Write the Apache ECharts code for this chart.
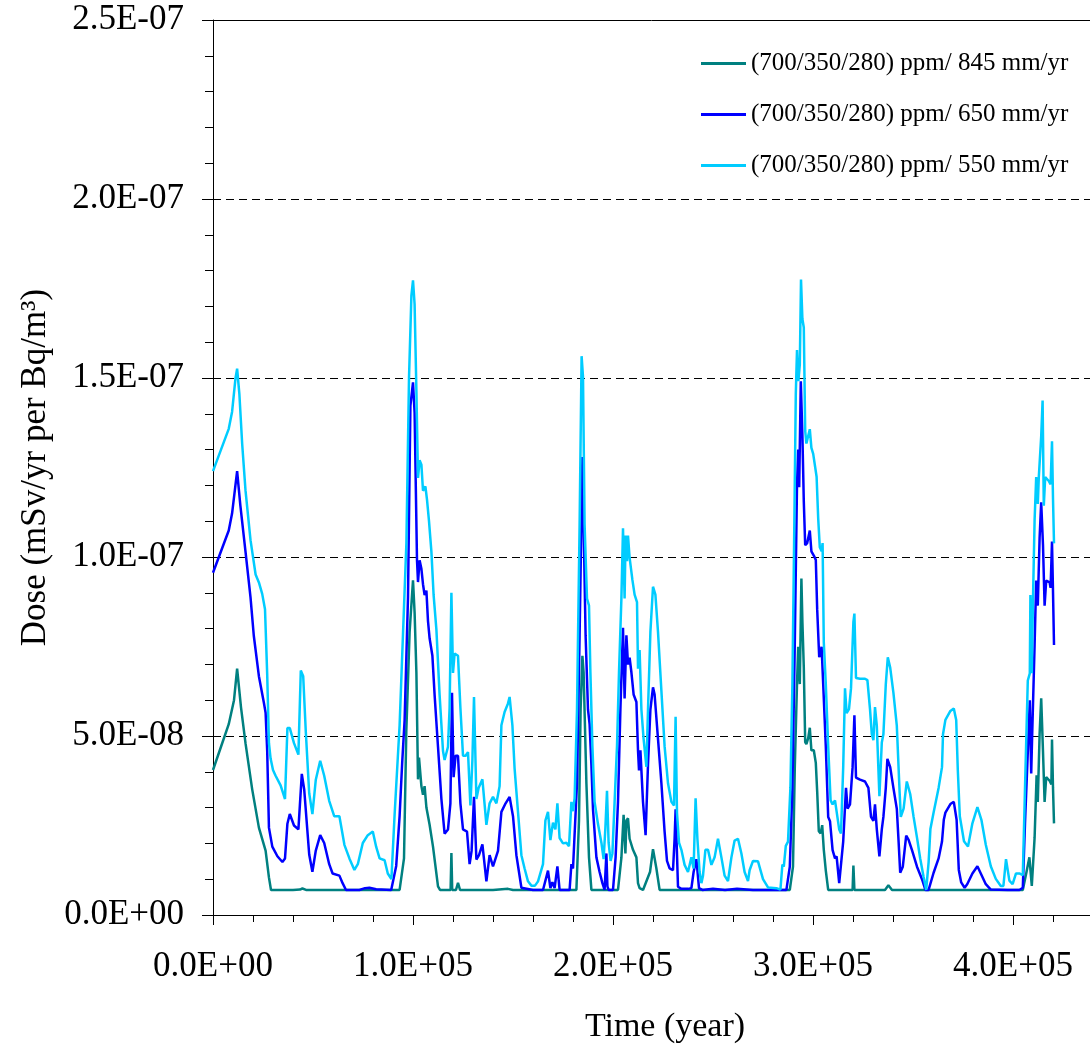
<!DOCTYPE html>
<html>
<head>
<meta charset="utf-8">
<script src="https://cdn.jsdelivr.net/npm/echarts@6/dist/echarts.min.js"></script>
<style>
  html, body { margin: 0; padding: 0; background: #fff; }
  #chart { width: 1090px; height: 1049px; }
</style>
</head>
<body>
<div id="chart"></div>
<script>
// Dose values are stored in units of 1e-9 mSv/yr per Bq/m³; time in years.
const DOSE_UNIT = 1e-9;

const seriesNames = [
  '(700/350/280) ppm/ 845 mm/yr',
  '(700/350/280) ppm/ 650 mm/yr',
  '(700/350/280) ppm/ 550 mm/yr'
];
const seriesColors = ['#008080', '#0000FF', '#00CCFF'];

// 845 mm/yr
const time845 = [0,4000,7870,10500,12060,14000,16250,19600,22950,26300,27970,29000,35000,40000,43500,44700,46500,60000,75000,93300,95500,96650,98300,100000,100800,101700,102500,103000,104200,105000,105800,106700,108300,110000,112500,113500,118800,119200,119600,121500,122500,123500,140000,147500,150000,180000,181700,183000,183800,184700,185300,186700,188000,189200,202500,204200,205300,206200,206700,207500,208300,210000,211700,212500,213300,215000,218500,220000,221700,223300,250000,288400,290000,290900,292000,292600,293400,294200,294700,295400,296100,296700,297600,298400,299200,300400,301400,302100,302900,303800,304600,305400,306400,307600,319800,320200,320700,336000,337700,339500,360000,404900,406600,408200,409400,410800,411800,412400,413300,414100,415000,415800,416600,418300,419200,419500,420000,420500];
const dose845 = [40.5,47,53.3,60,68.8,58,48,35.1,24.4,18,10.5,7,7,7,7.1,7.4,7,7,7,7,15.8,51.2,79,93.5,84.5,67.6,37.9,44,36,33.6,36,30,25.2,19.1,8,7,7,17.3,7,7,9,7,7,7.3,7,7,7,26.4,57.4,72.4,67.8,36.8,16.1,7,7,16,28,17.2,26.4,27,21.3,18.2,16.1,8.9,7.5,7,12,18.4,13,7,7,7,13.5,41.3,64.5,74.9,64.5,94,81.9,69.1,48.3,47.7,49.4,52.3,46,46,42.5,34.4,23.4,22.8,25.1,18.2,12.4,7,7,13.8,7,7,8.3,7,7,7,11.6,16.1,8.1,21.6,39,31.6,50.5,60.5,45.6,31.6,38.5,37.5,36.5,49,35.5,25.6];

// 650 mm/yr
const time650 = [0,7870,9550,12060,13700,16250,18760,20400,22950,25460,26300,27100,27970,29650,32200,34700,36000,37200,38400,40500,42700,44400,45600,48100,49700,51400,53600,55600,58100,59800,63200,64800,66500,73200,76000,78200,81600,89100,90000,91600,93300,94600,95800,97500,98700,100000,100800,102000,102500,103300,104200,105000,105800,106700,107500,108300,109700,110800,112500,114200,115800,117500,118700,119500,120300,121300,122500,123700,125000,127000,128300,129300,130500,131700,133000,134700,136700,138300,140000,142500,144200,146300,148300,150000,151700,154200,160000,165000,167500,168700,169700,170800,172200,173300,178300,179200,180000,180800,182000,183300,184700,185300,186300,187500,188300,189200,190000,191700,193300,194700,195800,196700,197200,197800,200000,201300,202500,203700,205000,205800,206700,207500,208300,209200,210300,211700,212500,213000,213700,215000,216300,217500,218700,220000,220800,222500,224200,225800,227000,228300,230000,230800,231300,232500,234200,237500,239200,240300,241700,243000,244700,250000,256000,262000,270000,286700,288400,289700,290900,292000,292600,293100,293900,294700,295400,296100,297100,298400,299200,300400,301400,302100,303100,304300,305100,306400,307600,308500,309800,311000,311800,313100,314000,315100,316500,317300,318500,319800,320700,321500,323500,326000,327700,329000,330200,331000,331900,333200,334400,335200,336400,337200,338600,340200,341900,342800,343600,344900,346600,347800,349500,352000,354500,356200,357800,360300,362800,364500,365400,366200,368700,370400,371800,372900,374100,375800,377100,379700,382200,383900,386400,388900,397300,403200,404900,406000,407400,408400,409100,409600,410800,411600,412400,413300,414100,415000,415800,416600,417500,418300,418800,419500,420000,420500];
const dose650 = [95.6,107.4,112.2,124,114.3,101.5,88.7,78,66.7,59.2,56.5,45.8,24.4,19.1,16.4,14.8,15.8,25.5,28.2,25,23.9,39.4,35.1,16.9,12.1,18,22.3,20.1,14.2,11.6,11,8.9,7,7,7.5,7.6,7.2,7,7,13.7,27.6,42.6,54.4,88.7,142.2,148.8,140.3,99.1,93,99.1,96.7,92.4,89.4,90.6,82.1,77.3,72.4,61.5,47,32.4,22.7,23.9,31.2,62.1,38.5,44.5,44.5,31.2,23.9,23.3,14.2,17.9,33,15.5,16.7,19.7,9.4,16.7,13.6,17.9,28.8,31.2,33,27.6,16.7,7.6,7,7,12.4,7.5,9.2,7.5,13.6,7,7,14.2,13,13,36.8,78.1,127.9,109.1,78.1,57.4,53.3,41.9,29.5,16.1,12,8.9,7,17.2,8,7,7,16.1,31.6,57.4,80.2,60.5,78.1,70,71.9,67.8,61.6,59.5,46,40.4,46,31.6,22.3,42,57.4,63.6,61.6,49.2,36.8,23.3,15.1,13,12.5,21.3,29.5,7.9,7.3,7.3,7.5,12,15.6,7.5,7,7.3,7,7.3,7,7,13.5,35.5,76,120.1,130,119.5,149.1,134,115.5,103.3,103.9,107.4,101.6,100.4,99.2,85.3,72,74.9,64.5,47.1,27.4,26.2,18.1,15.8,16.4,8.9,8.9,20.5,35.5,29.7,30.9,41.3,55.8,38.4,37.8,37.3,35.5,27.4,26.3,30.9,23.9,16.4,23.9,27.4,35.5,43.6,41.3,35.5,29.7,20.5,11.8,13.5,22.2,21,18.1,13.5,10,7,7,11.8,15.8,20.5,26.6,28.6,31,31.6,26.6,12.6,9.1,7.6,8.6,11.6,13.6,11.6,8.6,7.1,7,7,7.6,25.6,45.5,60,39.5,50.5,75.4,93.4,86.4,105.3,115.3,103.3,86.4,93.4,93.4,92.9,91.4,104.3,90.4,75.4];

// 550 mm/yr
const time550 = [0,7870,9550,11200,12060,13200,14600,16250,18760,21300,22950,24600,26000,27100,27970,28800,30000,31300,33800,36000,37200,38400,40500,42700,43900,45100,46400,48100,49700,51400,53600,55600,58100,60600,63200,65700,68200,70700,72400,74900,77400,79900,81600,83300,85800,87400,89200,90800,93300,95000,96700,98000,99200,100000,100800,101700,102500,103300,104200,105000,106200,107000,108000,109200,110300,111700,113300,115000,115800,117500,118300,119200,120000,120800,122500,123700,125000,126300,127500,128700,129700,130500,131700,132800,134700,136700,138300,140000,141700,143300,144200,145800,147500,148300,149700,150800,152500,154200,155800,157500,159200,161000,162500,165000,166200,167500,168700,170000,171200,172200,173300,175000,176700,178000,179200,180000,180800,182000,183300,184300,185000,185800,187000,188000,188700,189700,190800,192500,194200,195300,196200,197000,197800,198800,199700,200800,202000,203000,204200,205000,205800,206300,207000,207500,208300,209700,210800,212000,212500,213300,214200,215300,216700,217500,218700,220000,221200,222500,224200,225800,227500,229200,230500,231300,232000,233000,234200,235800,237500,239200,240300,241300,242200,243300,244200,245000,246200,247500,249200,250800,252500,254200,255800,257500,259200,260800,262500,264200,265800,267500,268300,270000,272500,275000,277500,281700,283700,284700,285400,286400,287500,288700,289700,290500,291400,292000,292700,293400,294000,294700,295400,296100,296700,297600,298400,299200,300100,300900,301800,302600,303400,304300,304800,305400,306400,307600,308800,309800,311000,311800,313100,314000,315100,316000,316800,318000,319000,320200,320700,321500,323500,326000,327200,328500,329400,330200,331000,331900,333200,334400,335200,336400,337400,338600,340200,341900,343300,343900,345300,346900,348600,350300,352000,353600,355300,356600,357800,358700,360300,362800,364500,365000,366200,368700,370400,371600,372400,373400,375500,377500,379700,382200,384200,386400,388900,391400,393900,395200,396500,398200,399800,401500,403200,404900,406000,407400,408400,408700,409400,409900,410800,411600,412400,412900,414100,414800,415400,416100,417100,417800,418800,419500,420000,420500];
const dose550 = [124,135.8,140.6,149.7,152.6,145.4,131.5,118.6,104.7,95.1,92.9,89.7,85.4,67.2,48,43.7,40.5,38.9,36.2,32.4,52.2,52.2,48,44.8,68.3,66.7,51.2,34,28.2,37.8,43.1,38.9,31.9,27.6,27.6,19.6,15.8,12.6,14.2,20.1,22.3,23.3,19,15.8,15.3,11.6,10,28,53,78.5,104,150,173,177.3,170.6,146.4,122.1,127,125.8,118.5,119.7,116,110,101.5,89.4,79.7,61.5,45.8,43.3,47,57.9,90,67.6,73,72.4,57.9,44.5,44.5,45.5,30.6,43.3,60.9,32.4,35.5,37.9,25.2,31.2,33,31.2,36,53,56.7,59.1,60.9,53,40.9,28.8,16.7,13,9.4,8.2,8.2,9.4,14.2,26.4,28.8,20.9,25.8,23.9,31.2,21.5,20,20.2,19.2,31.6,29,32.6,57.4,109.1,156.1,150.4,109.1,88.4,86.4,67.8,47.1,31.6,25.4,20.2,15.6,24.4,34.7,20.2,15.1,17.2,31.6,47.1,67.8,88.4,108,88.4,106,98.8,106,99.8,93.6,89.5,87.4,68.8,74,57.4,49.2,41.4,57.4,79.1,91.7,89.5,79.1,62.6,47.1,36.8,31.6,30.6,55.4,28.5,20.2,18.2,14,12,16.1,13,32.6,21.3,12,8.9,11,18.2,18.2,14,16.1,21.3,16.1,11,9.5,16.1,20.8,21.3,17.2,12,9.5,12.5,15.1,15,10,7.7,7.5,7.1,14.1,13.5,19.3,20.5,35.5,64.5,101.6,145.6,157.8,149.1,153.7,177.5,166.5,164.1,135.2,131.7,131.7,135.7,130.5,128.8,129.2,122.4,110.8,102.7,101.6,103.9,76.1,64.5,47.1,32,30.9,32,32,23.9,22.8,41.3,63.3,56.4,57.5,63.3,81.9,84.2,66.2,66,66,65.6,57.5,50.5,48.8,58.1,52.9,33.2,48.2,50.5,64.5,72,69.1,62.1,52.9,34.4,27.4,29.7,37.3,33.8,27.4,21.6,15.8,10.6,7,14.7,24,28.6,35.5,41.3,50.5,54.5,57,57.7,54.5,40.5,27.6,20.6,19.1,25.6,30.1,26.6,19.6,13.6,10.1,8.1,8.1,15.6,9.6,8.6,11.6,11.6,11.1,35.5,65.5,67.5,89.4,67.5,85.4,110.3,122.3,114.8,122.3,133.7,143.7,114.3,122.3,121.8,121.3,120.3,132.3,116.3,103.8];

// Axis ranges and ticks
const xMax = 438500;
const xMajorTicks = [0, 100000, 200000, 300000, 400000];
const xMinorTicks = [20000, 40000, 60000, 80000, 120000, 140000, 160000, 180000, 220000, 240000, 260000, 280000, 320000, 340000, 360000, 380000, 420000];
const yTickStep = 5e-8;
const yMax = 2.5e-7;

const FONT = '"Liberation Serif", "Times New Roman", serif';

// Scientific label with a two-digit exponent, e.g. 2.5E-07
function sciLabel(v) {
  const parts = Number(v).toExponential(1).split('e');
  const n = parseInt(parts[1], 10);
  return parts[0] + 'E' + (n < 0 ? '-' : '+') + String(Math.abs(n)).padStart(2, '0');
}

function pairs(times, doses) {
  return times.map((t, i) => [t, doses[i] * DOSE_UNIT]);
}

const seriesData = [pairs(time845, dose845), pairs(time650, dose650), pairs(time550, dose550)];

const blackLine = { color: '#000', width: 1 };

const chart = echarts.init(document.getElementById('chart'), null, { renderer: 'canvas' });

chart.setOption({
  animation: false,
  backgroundColor: '#ffffff',
  title: {
    text: 'Time (year)',
    left: 660,
    top: 1005,
    textAlign: 'center',
    textStyle: { fontFamily: FONT, fontSize: 34, fontWeight: 'normal', color: '#000' }
  },
  legend: {
    orient: 'vertical',
    left: 696,
    top: 46,
    icon: 'rect',
    itemWidth: 45,
    itemHeight: 3,
    itemGap: 26,
    data: seriesNames,
    textStyle: { fontFamily: FONT, fontSize: 25, color: '#000', lineHeight: 25 }
  },
  grid: { left: 213, top: 20, right: 0, bottom: 134, containLabel: false },
  xAxis: [
    {
      // major ticks and labels
      type: 'value',
      position: 'bottom',
      min: 0,
      max: xMax,
      axisLine: { show: true, onZero: false, lineStyle: blackLine },
      axisTick: { show: true, length: 10, customValues: xMajorTicks, lineStyle: blackLine },
      axisLabel: { fontFamily: FONT, fontSize: 35, color: '#000', margin: 34, customValues: xMajorTicks, formatter: sciLabel },
      splitLine: { show: false }
    },
    {
      // minor ticks
      type: 'value',
      position: 'bottom',
      min: 0,
      max: xMax,
      axisLine: { show: false, onZero: false },
      axisTick: { show: true, length: 7, customValues: xMinorTicks, lineStyle: blackLine },
      axisLabel: { show: false },
      splitLine: { show: false }
    },
    {
      // top border
      type: 'value',
      position: 'top',
      min: 0,
      max: xMax,
      axisLine: { show: true, onZero: false, lineStyle: blackLine },
      axisTick: { show: false },
      axisLabel: { show: false },
      splitLine: { show: false }
    }
  ],
  yAxis: {
    type: 'value',
    min: 0,
    max: yMax,
    interval: yTickStep,
    name: 'Dose (mSv/yr per Bq/m³)',
    nameLocation: 'middle',
    nameGap: 160,
    nameTextStyle: { fontFamily: FONT, fontSize: 35, color: '#000' },
    axisLine: { show: true, lineStyle: blackLine },
    axisTick: { show: true, length: 11, lineStyle: blackLine },
    minorTick: { show: true, splitNumber: 5, length: 8, lineStyle: blackLine },
    axisLabel: { fontFamily: FONT, fontSize: 35, color: '#000', margin: 29, formatter: sciLabel },
    splitLine: { show: true, lineStyle: { color: '#000', width: 1, type: [8, 5] } }
  },
  series: seriesNames.map((name, i) => ({
    name: name,
    type: 'line',
    xAxisIndex: 0,
    data: seriesData[i],
    showSymbol: false,
    symbol: 'none',
    smooth: false,
    clip: true,
    z: 2 + i,
    itemStyle: { color: seriesColors[i] },
    lineStyle: { color: seriesColors[i], width: 2.5 }
  }))
});
</script>
</body>
</html>
